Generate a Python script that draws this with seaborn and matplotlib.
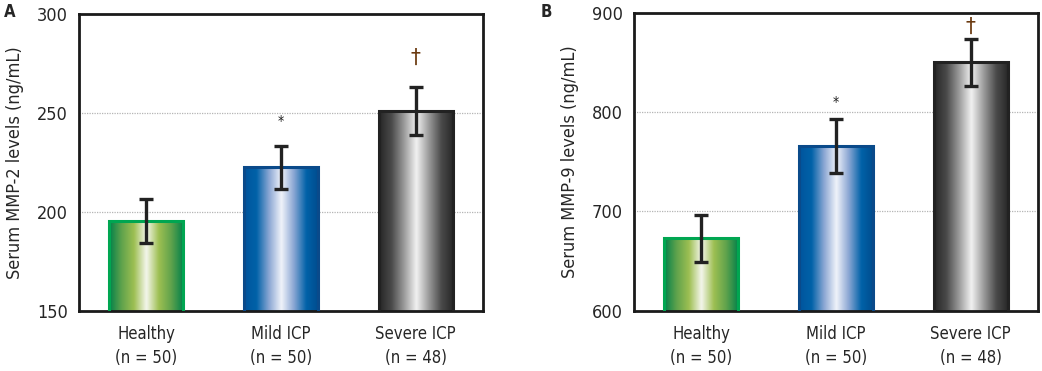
import numpy as np
import pandas as pd
import matplotlib
matplotlib.use("Agg")
import matplotlib.pyplot as plt
from matplotlib.colors import LinearSegmentedColormap
import seaborn as sns

groups = ["Healthy\n(n = 50)", "Mild ICP\n(n = 50)", "Severe ICP\n(n = 48)"]
mmp2_mean = [195.5, 222.5, 251.0]
mmp2_err = [11.0, 10.8, 12.3]
mmp9_mean = [673.0, 766.0, 850.0]
mmp9_err = [23.5, 27.0, 23.5]
marks = ["", "*", "\u2020"]
mmp2_mark_y = [None, 246, 278]
mmp9_mark_y = [None, 810, 886]

gradients = [
    ["#00804a", "#5fa24c", "#9dbf52", "#f4f6ec", "#9dbf52", "#5fa24c", "#00804a"],
    ["#00549c", "#0062a8", "#8aa6d3", "#f0f3fa", "#8aa6d3", "#0062a8", "#004b8d"],
    ["#262626", "#4a4a4a", "#9a9a9a", "#f2f2f2", "#9a9a9a", "#4a4a4a", "#262626"],
]
edge_colors = ["#00a651", "#0a4a8a", "#222222"]

sns.set_style("white")
plt.rcParams["font.family"] = ["DejaVu Sans"]
plt.rcParams["font.stretch"] = "condensed"


def panel(ax, means, errs, mark_y, ylim, ticks, ylabel):
    df = pd.DataFrame({"group": groups, "value": means})
    sns.barplot(data=df, x="group", y="value", ax=ax, width=0.55,
                errorbar=None, color="white")
    ax.set_ylim(*ylim)
    ax.set_xlim(-0.5, 2.5)

    # gradient fill clipped to each bar
    grad = np.linspace(0, 1, 256).reshape(1, -1)
    for i, p in enumerate(ax.patches):
        x0, w, h = p.get_x(), p.get_width(), p.get_height()
        cmap = LinearSegmentedColormap.from_list(f"g{i}", gradients[i])
        ax.imshow(grad, cmap=cmap, aspect="auto", extent=[x0, x0 + w, ylim[0], h],
                  zorder=2, interpolation="bicubic")
        p.set_facecolor("none")
        p.set_edgecolor(edge_colors[i])
        p.set_linewidth(2.2)
        p.set_zorder(3)

    ax.errorbar(range(3), means, yerr=errs, fmt="none", ecolor="#222222",
                elinewidth=2.4, capsize=5, capthick=2.4, zorder=4)
    for i, m in enumerate(marks):
        if m:
            ax.text(i, mark_y[i], m, ha="center", va="center", fontsize=10 if m == "*" else 16,
                    color="#222222" if m == "*" else "#6b3a10", zorder=5)

    ax.set_yticks(ticks)
    ax.yaxis.grid(True, linestyle=(0, (1, 1)), color="#b5b5b5", linewidth=0.9)
    ax.set_axisbelow(True)
    for s in ax.spines.values():
        s.set_visible(True)
        s.set_color("#1a1a1a")
        s.set_linewidth(2)

    ax.set_xticks(range(3))
    ax.set_xticklabels(groups, fontsize=12, linespacing=1.45)
    ax.tick_params(axis="x", which="major", length=0, pad=10)
    ax.set_xticks([-0.5, 0.5, 1.5, 2.5], minor=True)
    ax.tick_params(axis="x", which="minor", length=5, width=1.5, direction="out", color="#1a1a1a")
    ax.tick_params(axis="y", length=5, width=1.5, direction="out", labelsize=13, pad=3, color="#1a1a1a")
    ax.set_xlabel("")
    ax.set_ylabel(ylabel, fontsize=13, labelpad=9)


fig = plt.figure(figsize=(10.42, 3.71), dpi=100)
ax1 = fig.add_axes([0.0758, 0.162, 0.3877, 0.800])
ax2 = fig.add_axes([0.6085, 0.1625, 0.3877, 0.803])

panel(ax1, mmp2_mean, mmp2_err, mmp2_mark_y, (150, 300), [150, 200, 250, 300],
      "Serum MMP-2 levels (ng/mL)")
panel(ax2, mmp9_mean, mmp9_err, mmp9_mark_y, (600, 900), [600, 700, 800, 900],
      "Serum MMP-9 levels (ng/mL)")

fig.text(0.004, 0.968, "A", fontsize=12, fontweight="bold", va="center", ha="left")
fig.text(0.519, 0.968, "B", fontsize=12, fontweight="bold", va="center", ha="left")

fig.savefig("out.png", dpi=100)
